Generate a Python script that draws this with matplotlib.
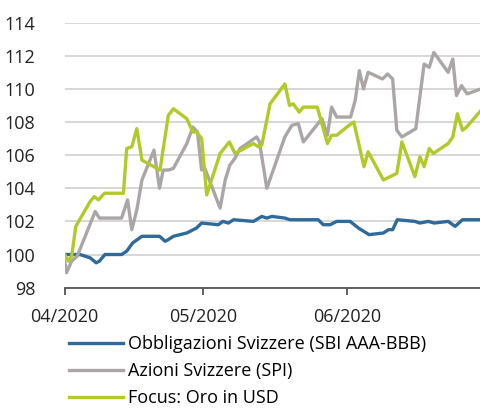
import matplotlib
matplotlib.use("Agg")
import matplotlib.pyplot as plt
import matplotlib.dates as mdates
import pandas as pd

# days since 2020-04-01
bond_days = [0, 3.3, 5.5, 6.8, 7.5, 8.7, 12.3, 13.4, 14.7, 16.7, 20.5, 21.7, 22.4,
             23.5, 26.4, 28.5, 29.6, 33.2, 34.2, 35.4, 36.5, 40.8, 42.6, 43.7, 44.8,
             47.6, 48.7, 51.6, 54.8, 55.9, 57.4, 58.8, 61.7, 63.5, 65.8, 68.9, 70.0,
             70.9, 71.9, 75.7, 76.8, 78.6, 79.9, 82.9, 84.4, 86.0, 90]
bond_vals = [100.0, 100.0, 99.8, 99.5, 99.6, 100.0, 100.0, 100.2, 100.7, 101.1, 101.1,
             100.8, 100.9, 101.1, 101.3, 101.6, 101.9, 101.8, 102.0, 101.9, 102.1, 102.0,
             102.3, 102.2, 102.3, 102.2, 102.1, 102.1, 102.1, 101.8, 101.8, 102.0, 102.0,
             101.6, 101.2, 101.3, 101.5, 101.5, 102.1, 102.0, 101.9, 102.0, 101.9, 102.0,
             101.7, 102.1, 102.1]

spi_days = [0, 0.4, 1.5, 2.7, 6.6, 7.5, 8.0, 12.3, 13.6, 14.5, 15.6, 16.7, 19.3, 20.5,
            21.3, 22.4, 23.5, 26.4, 27.7, 28.7, 29.6, 30.3, 33.6, 34.7, 35.7, 36.8,
            37.9, 41.5, 42.1, 43.7, 47.6, 49.1, 50.5, 51.6, 55.6, 56.8, 57.7, 58.8,
            61.8, 62.8, 63.7, 64.6, 65.6, 68.7, 69.8, 70.9, 71.8, 72.9, 75.9, 77.7,
            78.8, 79.8, 82.9, 83.9, 84.7, 85.8, 87.0, 90]
spi_vals = [99.6, 98.9, 99.6, 99.9, 102.6, 102.2, 102.2, 102.2, 103.3, 101.5, 102.7,
            104.5, 106.3, 104.0, 105.1, 105.1, 105.2, 106.7, 107.7, 107.4, 105.1, 105.2,
            102.8, 104.5, 105.4, 105.8, 106.4, 107.1, 106.8, 104.0, 107.1, 107.8, 107.9,
            106.8, 108.2, 107.2, 108.9, 108.3, 108.3, 109.3, 111.1, 110.0, 111.0, 110.6,
            110.9, 110.6, 107.5, 107.1, 107.6, 111.5, 111.3, 112.2, 111.0, 111.8, 109.6,
            110.2, 109.7, 110.0]

gold_days = [0, 0.8, 1.5, 2.4, 5.5, 6.4, 7.3, 8.6, 12.7, 13.4, 14.5, 15.6, 16.7, 20.6,
             22.4, 23.5, 26.4, 27.7, 28.5, 29.6, 30.7, 33.6, 35.6, 36.8, 40.8, 41.9,
             42.6, 44.4, 47.6, 48.6, 49.4, 50.7, 51.6, 54.6, 56.8, 57.7, 58.8, 61.0,
             62.5, 64.7, 65.6, 68.9, 71.8, 72.9, 75.7, 76.8, 77.7, 78.8, 79.7, 82.9,
             83.9, 84.9, 86.0, 86.9, 90]
gold_vals = [100.0, 99.6, 99.9, 101.7, 103.2, 103.5, 103.3, 103.7, 103.7, 106.4, 106.5,
             107.6, 105.7, 105.1, 108.4, 108.8, 108.2, 107.4, 107.4, 107.0, 103.6, 106.1,
             106.8, 106.1, 106.7, 106.5, 106.6, 109.1, 110.3, 109.0, 109.1, 108.6, 108.9,
             108.9, 106.7, 107.2, 107.2, 107.7, 108.0, 105.3, 106.2, 104.5, 104.9, 106.8,
             104.7, 105.9, 105.3, 106.4, 106.1, 106.7, 107.1, 108.5, 107.5, 107.7, 108.7]

labels = ["Obbligazioni Svizzere (SBI AAA-BBB)", "Azioni Svizzere (SPI)",
          "Focus: Oro in USD"]
colors = ["#2f6a9c", "#aca5a5", "#b3c92a"]
yticks = [98, 100, 102, 104, 106, 108, 110, 112, 114]
xticks = ["2020-04-01", "2020-05-01", "2020-06-01"]

plt.rcParams['font.family'] = ['Open Sans', 'DejaVu Sans']

start = pd.Timestamp("2020-04-01")


def to_dates(days):
    return start + pd.to_timedelta(days, unit="D")


fig = plt.figure(figsize=(4.81, 4.08), dpi=100)
ax = fig.add_axes([0.1345, 0.295, 0.8655, 0.6495])

series = [(bond_days, bond_vals), (spi_days, spi_vals), (gold_days, gold_vals)]
handles = []
for (d, v), c, lab in zip(series, colors, labels):
    h, = ax.plot(to_dates(d), v, color=c, lw=2.4, label=lab, zorder=3)
    handles.append(h)

ax.set_ylim(98, 114)
ax.set_xlim(start, pd.Timestamp("2020-06-30"))
ax.set_yticks(yticks)
ax.set_xticks(pd.to_datetime(xticks))
ax.xaxis.set_major_formatter(mdates.DateFormatter("%m/%Y"))
ax.grid(axis="y", color="#d4d4d4", lw=1.3)
ax.set_axisbelow(True)
for s in ["top", "right", "left"]:
    ax.spines[s].set_visible(False)
ax.spines["bottom"].set_color("#555555")
ax.spines["bottom"].set_linewidth(1.3)
ax.tick_params(axis="y", length=0, pad=21, labelsize=13, labelcolor="#222222")
ax.tick_params(axis="x", length=5, width=1.3, color="#555555", pad=10,
               labelsize=13, labelcolor="#222222")

fig.legend(handles=handles, loc="upper left", bbox_to_anchor=(0.144, 0.178),
           frameon=False, fontsize=13, handlelength=3.0, handletextpad=0.28,
           labelspacing=0.5, borderpad=0, borderaxespad=0)

fig.savefig("out.png", dpi=100)
